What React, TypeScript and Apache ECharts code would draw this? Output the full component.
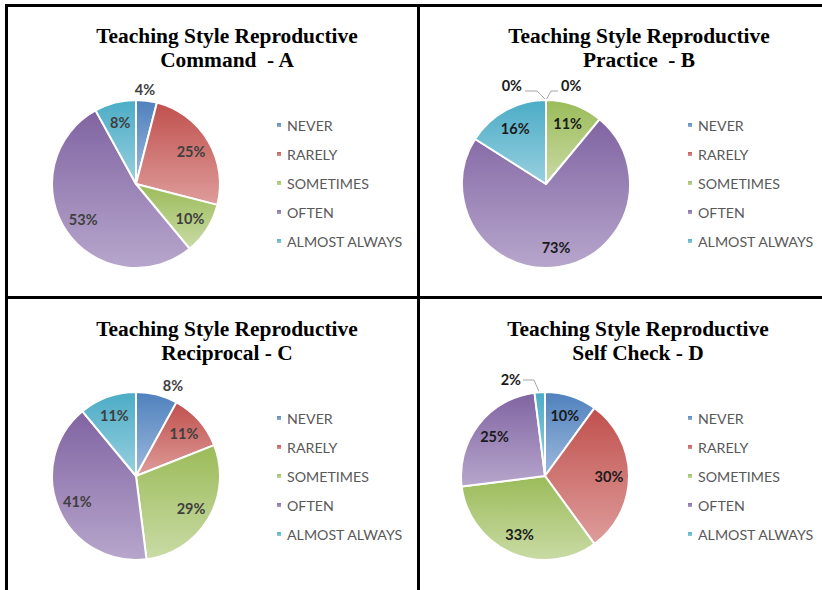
import React, { useEffect, useRef } from "react";
import * as echarts from "echarts";

// ---- data ----
const categories = ["NEVER", "RARELY", "SOMETIMES", "OFTEN", "ALMOST ALWAYS"];
const commandA = [4, 25, 10, 53, 8];
const practiceB = [0, 0, 11, 73, 16];
const reciprocalC = [8, 11, 29, 41, 11];
const selfCheckD = [10, 30, 33, 25, 2];
const chartTitles = [
  "Teaching Style Reproductive\nCommand  - A",
  "Teaching Style Reproductive\nPractice  - B",
  "Teaching Style Reproductive\nReciprocal - C",
  "Teaching Style Reproductive\nSelf Check - D",
];

// ---- styles ----
const baseColors = ["#4F81BD", "#C0504D", "#9BBB59", "#8064A2", "#4BACC6"];
const lightColors = ["#9DB9DD", "#DE9D9B", "#C9DBA5", "#B7A6CC", "#98D0DF"];
const R = 84;

type OutSpec = {
  tx: number;
  ty: number;
  align: "left" | "right" | "center";
  line?: number[][];
};

const panels = [
  {
    values: commandA, title: chartTitles[0], cx: 136, cy: 184, tX: 227, tY: 24,
    lX: 275, lY: 118, labelColor: "#3f3f3f",
    outside: { 0: { tx: 9, ty: -11, align: "center" } } as Record<number, OutSpec>,
  },
  {
    values: practiceB, title: chartTitles[1], cx: 546, cy: 184, tX: 639, tY: 24,
    lX: 686, lY: 118, labelColor: "#1a1a1a",
    outside: {
      0: { tx: 15, ty: -15, align: "left", line: [[0, 0], [5, -9], [12, -9]] },
      1: { tx: -24, ty: -15, align: "right", line: [[0, 0], [-9, -9], [-21, -9]] },
    } as Record<number, OutSpec>,
  },
  {
    values: reciprocalC, title: chartTitles[2], cx: 136, cy: 476, tX: 227, tY: 317,
    lX: 275, lY: 411, labelColor: "#3f3f3f",
    outside: { 0: { tx: 37, ty: -7, align: "center" } } as Record<number, OutSpec>,
  },
  {
    values: selfCheckD, title: chartTitles[3], cx: 545, cy: 476, tX: 638, tY: 317,
    lX: 686, lY: 411, labelColor: "#1a1a1a",
    outside: {
      4: { tx: -24, ty: -13, align: "right", line: [[-5, 2], [-11, -12], [-22, -12]] },
    } as Record<number, OutSpec>,
  },
];

function grad(i: number) {
  return new echarts.graphic.LinearGradient(0, 0, 0, 1, [
    { offset: 0, color: baseColors[i] },
    { offset: 1, color: lightColors[i] },
  ]);
}

export default function App() {
  const ref = useRef<HTMLDivElement>(null);
  useEffect(() => {
    if (!ref.current) return;
    const chart = echarts.init(ref.current, undefined, { renderer: "svg" });

    const labelFont = {
      fontFamily: "Lato",
      fontWeight: "bold" as const,
      fontSize: 14.5,
    };

    const mainSeries = panels.map((p) => ({
      type: "pie",
      center: [p.cx, p.cy],
      radius: R,
      startAngle: 90,
      clockwise: true,
      avoidLabelOverlap: false,
      emphasis: { disabled: true },
      itemStyle: { borderColor: "#ffffff", borderWidth: 2 },
      label: { show: false, formatter: "{c}%", color: p.labelColor, ...labelFont },
      labelLine: { show: false, lineStyle: { color: "#A6A6A6", width: 1 } },
      data: categories.map((name, i) => {
        const spec = p.outside[i];
        return {
          name,
          value: p.values[i],
          itemStyle: { color: grad(i) },
          label: spec ? { show: true, position: "outside" } : { show: false },
          labelLine: { show: !!(spec && spec.line) },
        };
      }),
      labelLayout: (params: any) => {
        const spec = p.outside[params.dataIndex];
        if (!spec) return {};
        const top = p.cy - R;
        const res: any = {
          x: p.cx + spec.tx,
          y: top + spec.ty,
          align: spec.align,
          verticalAlign: "middle",
        };
        if (spec.line) {
          res.labelLinePoints = spec.line.map(([dx, dy]) => [p.cx + dx, top + dy]);
        }
        return res;
      },
    }));

    const labelSeries = panels.map((p) => ({
      type: "pie",
      center: [p.cx, p.cy],
      radius: [R * 0.45, R],
      startAngle: 90,
      clockwise: true,
      silent: true,
      legendHoverLink: false,
      avoidLabelOverlap: false,
      emphasis: { disabled: true },
      itemStyle: { color: "rgba(0,0,0,0)", borderWidth: 0 },
      label: {
        show: true,
        position: "inside",
        formatter: "{c}%",
        color: p.labelColor,
        ...labelFont,
      },
      labelLine: { show: false },
      data: categories.map((name, i) => ({
        name,
        value: p.values[i],
        label: p.outside[i] ? { show: false } : undefined,
      })),
    }));

    const option: any = {
      animation: false,
      backgroundColor: "#ffffff",
      title: panels.map((p) => ({
        text: p.title,
        left: p.tX,
        top: p.tY,
        padding: 0,
        textAlign: "center",
        textVerticalAlign: "top",
        textStyle: {
          fontFamily: "Liberation Serif",
          fontWeight: "bold",
          fontSize: 21.4,
          lineHeight: 24,
          color: "#000000",
        },
      })),
      legend: panels.map((p) => ({
        orient: "vertical",
        left: p.lX,
        top: p.lY,
        padding: 0,
        itemWidth: 6,
        itemHeight: 6,
        itemGap: 15,
        icon: "rect",
        selectedMode: false,
        data: categories,
        textStyle: {
          fontFamily: "Lato",
          fontSize: 14.2,
          lineHeight: 14,
          color: "#595959",
        },
      })),
      graphic: [
        { type: "rect", shape: { x: 5, y: 4, width: 817, height: 3 }, style: { fill: "#000" } },
        { type: "rect", shape: { x: 5, y: 4, width: 3, height: 586 }, style: { fill: "#000" } },
        { type: "rect", shape: { x: 417, y: 4, width: 3, height: 586 }, style: { fill: "#000" } },
        { type: "rect", shape: { x: 5, y: 296, width: 817, height: 3 }, style: { fill: "#000" } },
      ],
      series: [...mainSeries, ...labelSeries],
    };
    chart.setOption(option);
    return () => chart.dispose();
  }, []);

  return (
    <div
      ref={ref}
      style={{ position: "fixed", left: 0, top: 0, width: 822, height: 590, background: "#fff" }}
    />
  );
}
